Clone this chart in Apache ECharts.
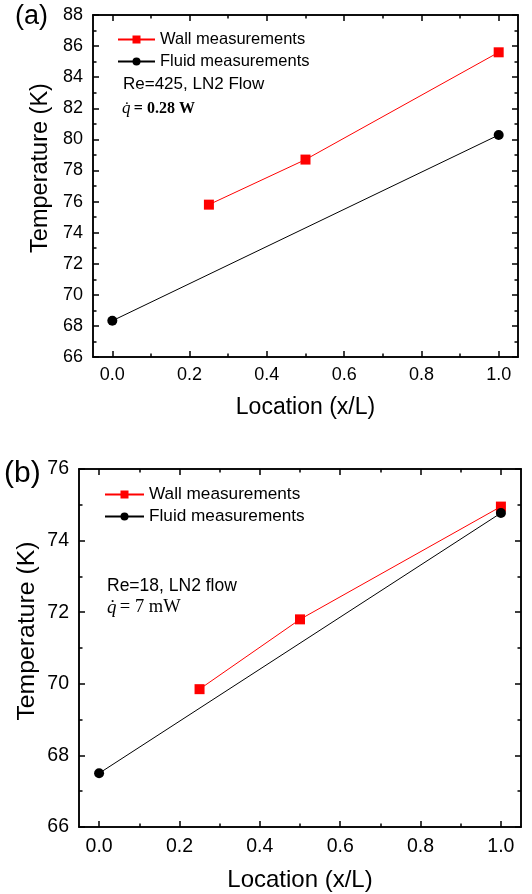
<!DOCTYPE html>
<html><head><meta charset="utf-8">
<script src="https://cdn.jsdelivr.net/npm/echarts@6/dist/echarts.min.js"></script>
<style>html,body{margin:0;padding:0;background:#fff}#c{width:532px;height:894px}</style>
</head><body><div id="c"></div>
<script>
// ---- data ----
const xMajorTicks = [0, 0.2, 0.4, 0.6, 0.8, 1.0];
const xMinorTicks = [0.1, 0.3, 0.5, 0.7, 0.9];
const yMinorTicksA = [67, 69, 71, 73, 75, 77, 79, 81, 83, 85, 87];
const yMinorTicksB = [67, 69, 71, 73, 75];
const legendNames = ['Wall measurements', 'Fluid measurements'];
// panel (a)
const wallXA = [0.25, 0.5, 1.0];
const wallYA = [75.8, 78.7, 85.6];
const fluidXA = [0.0, 1.0];
const fluidYA = [68.33, 80.28];
// panel (b)
const wallXB = [0.25, 0.5, 1.0];
const wallYB = [69.85, 71.8, 74.95];
const fluidXB = [0.0, 1.0];
const fluidYB = [67.5, 74.77];

const FONT = 'Liberation Sans';
const chart = echarts.init(document.getElementById('c'), null, {renderer: 'canvas'});
const axisLineStyle = {color: '#000', width: 1.5};

function xAxesFor(g, labelSize, labelMargin, nameSize, nameGap) {
  const base = {gridIndex: g, type: 'value', min: -0.05, max: 1.05, splitLine: {show: false},
    axisLine: {show: true, onZero: false, lineStyle: axisLineStyle}};
  return [
    Object.assign({}, base, {position: 'bottom',
      name: 'Location (x/L)', nameLocation: 'middle', nameGap: nameGap,
      nameTextStyle: {fontFamily: FONT, fontSize: nameSize, color: '#000'},
      axisTick: {show: true, inside: true, length: 6, lineStyle: axisLineStyle, customValues: xMajorTicks},
      axisLabel: {show: true, fontFamily: FONT, fontSize: labelSize, color: '#000', margin: labelMargin,
        customValues: xMajorTicks, formatter: v => v.toFixed(1)}}),
    Object.assign({}, base, {position: 'bottom',
      axisTick: {show: true, inside: true, length: 3.5, lineStyle: axisLineStyle, customValues: xMinorTicks},
      axisLabel: {show: false}}),
    Object.assign({}, base, {position: 'top',
      axisTick: {show: true, inside: true, length: 6, lineStyle: axisLineStyle, customValues: xMajorTicks},
      axisLabel: {show: false}}),
    Object.assign({}, base, {position: 'top',
      axisTick: {show: true, inside: true, length: 3.5, lineStyle: axisLineStyle, customValues: xMinorTicks},
      axisLabel: {show: false}})
  ];
}
function yAxesFor(g, min, max, minorTicks, labelSize) {
  const base = {gridIndex: g, type: 'value', min: min, max: max, interval: 2, splitLine: {show: false},
    axisLine: {show: true, onZero: false, lineStyle: axisLineStyle},
    axisTick: {show: true, inside: true, length: 6, lineStyle: axisLineStyle}};
  const minor = {axisTick: {show: true, inside: true, length: 3.5, lineStyle: axisLineStyle, customValues: minorTicks},
    axisLabel: {show: false}};
  return [
    Object.assign({}, base, {position: 'left',
      axisLabel: {show: true, fontFamily: FONT, fontSize: labelSize, color: '#000', margin: 10}}),
    Object.assign({}, base, {position: 'right', axisLabel: {show: false}}),
    Object.assign({}, base, minor, {position: 'left'}),
    Object.assign({}, base, minor, {position: 'right'})
  ];
}

function lineSeries(name, xs, ys, g, color, symbol) {
  return {name: name, type: 'line', xAxisIndex: g * 4, yAxisIndex: g * 4,
    data: xs.map((x, i) => [x, ys[i]]),
    symbol: symbol, symbolSize: 10, showSymbol: true,
    lineStyle: {color: color, width: 1}, itemStyle: {color: color},
    emphasis: {disabled: true}, animation: false};
}

const legendBase = {orient: 'vertical', itemHeight: 10, padding: 0, itemGap: 5,
  data: legendNames, selectedMode: false};

function yTitle(x, y, size) {
  return {type: 'text', x: x, y: y, rotation: Math.PI / 2,
    style: {text: 'Temperature (K)', fontFamily: FONT, fontSize: size, fill: '#000',
      align: 'center', verticalAlign: 'middle'}};
}

const option = {
  animation: false,
  grid: [
    {left: 93, top: 15, width: 425, height: 342},
    {left: 79, top: 469, width: 442, height: 358}
  ],
  xAxis: xAxesFor(0, 18, 9, 23, 39).concat(xAxesFor(1, 19.5, 10, 24, 41)),
  yAxis: yAxesFor(0, 66, 88, yMinorTicksA, 18).concat(yAxesFor(1, 66, 76, yMinorTicksB, 19.5)),
  legend: [
    Object.assign({}, legendBase, {left: 117, top: 31, itemWidth: 37,
      textStyle: {fontFamily: FONT, fontSize: 16.5, color: '#000'}}),
    Object.assign({}, legendBase, {left: 104, top: 486, itemWidth: 39,
      textStyle: {fontFamily: FONT, fontSize: 17.2, color: '#000'}})
  ],
  series: [
    lineSeries(legendNames[0], wallXA, wallYA, 0, '#ff0000', 'rect'),
    lineSeries(legendNames[1], fluidXA, fluidYA, 0, '#000000', 'circle'),
    lineSeries(legendNames[0], wallXB, wallYB, 1, '#ff0000', 'rect'),
    lineSeries(legendNames[1], fluidXB, fluidYB, 1, '#000000', 'circle')
  ],
  graphic: [
    yTitle(41, 168, 23.5),
    yTitle(27, 631, 24.8),
    {type: 'text', left: 15, top: 3, style: {text: '(a)', fontFamily: FONT, fontSize: 27, fill: '#000'}},
    {type: 'text', left: 123, top: 76, style: {text: 'Re=425, LN2 Flow', fontFamily: FONT, fontSize: 17, fill: '#000'}},
    {type: 'text', left: 122, top: 100, style: {text: '{q|q̇} {v|= 0.28 W}', fill: '#000',
      rich: {q: {fontFamily: 'Liberation Serif', fontStyle: 'italic', fontSize: 17},
             v: {fontFamily: 'Liberation Serif', fontWeight: 'bold', fontSize: 16}}}},
    {type: 'text', left: 4, top: 459, style: {text: '(b)', fontFamily: FONT, fontSize: 30, fill: '#000'}},
    {type: 'text', left: 107, top: 577, style: {text: 'Re=18, LN2 flow', fontFamily: FONT, fontSize: 17.5, fill: '#000'}},
    {type: 'text', left: 107, top: 598, style: {text: '{q|q̇} {v|= 7 mW}', fill: '#000',
      rich: {q: {fontFamily: 'Liberation Serif', fontStyle: 'italic', fontSize: 19},
             v: {fontFamily: 'Liberation Serif', fontSize: 18.5}}}}
  ]
};
chart.setOption(option);
</script></body></html>
